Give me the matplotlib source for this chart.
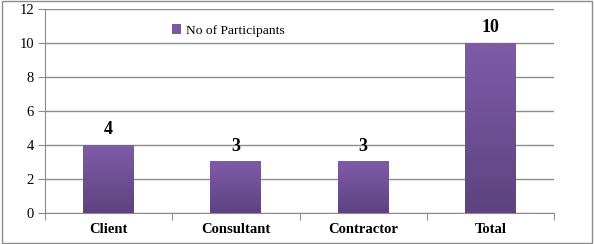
import matplotlib
matplotlib.use('Agg')
import matplotlib.pyplot as plt
import numpy as np
from matplotlib.colors import LinearSegmentedColormap
from matplotlib.patches import Rectangle

categories = ['Client', 'Consultant', 'Contractor', 'Total']
participants = [4, 3, 3, 10]
yticks = [0, 2, 4, 6, 8, 10, 12]

plt.rcParams['font.family'] = ['Liberation Serif', 'DejaVu Serif']

fig = plt.figure(figsize=(5.94, 2.44), dpi=100)
# outer frame
fig.patches.append(Rectangle((0.003, 0.006), 0.994, 0.988, transform=fig.transFigure,
                             fill=False, edgecolor='#8c8c8c', lw=1))
ax = fig.add_axes([45/594, 1 - 213/244, (554-45)/594, (213-9)/244])

grad = LinearSegmentedColormap.from_list('g', ['#5d4380', '#7f5ba8'])
x = np.arange(len(categories))
w = 0.4
for xi, v in zip(x, participants):
    img = np.linspace(0, 1, 100).reshape(-1, 1)
    ax.imshow(img, cmap=grad, origin='lower', aspect='auto',
              extent=(xi - w/2, xi + w/2, 0, v), zorder=3)
    ax.text(xi, v + 0.65, str(v), ha='center', va='baseline', fontsize=13, fontweight='bold')

ax.set_xlim(-0.5, len(categories) - 0.5)
ax.set_ylim(0, 12)
ax.set_yticks(yticks)
ax.set_yticklabels([str(t) for t in yticks], fontsize=10.5)
ax.set_xticks(np.arange(len(categories) + 1) - 0.5)
ax.set_xticklabels([])
ax.set_xticks(x, minor=True)
ax.set_xticklabels(categories, minor=True, fontsize=10.5, fontweight='bold')
ax.tick_params(axis='x', which='minor', length=0, pad=7)
ax.tick_params(axis='x', which='major', length=5, color='#8c8c8c')
ax.tick_params(axis='y', length=5, color='#8c8c8c', pad=3)
ax.yaxis.grid(True, color='#8c8c8c', lw=1)
ax.set_axisbelow(True)
for s in ['top', 'right']:
    ax.spines[s].set_visible(False)
for s in ['left', 'bottom']:
    ax.spines[s].set_color('#8c8c8c')

handle = Rectangle((0, 0), 1, 1, facecolor='#7a58a4')
ax.legend([handle], ['No of Participants'], loc='upper left', bbox_to_anchor=(0.225, 0.985),
          frameon=False, fontsize=9.7, handlelength=0.7, handleheight=0.7, handletextpad=0.4)

fig.savefig('out.png', dpi=100)
